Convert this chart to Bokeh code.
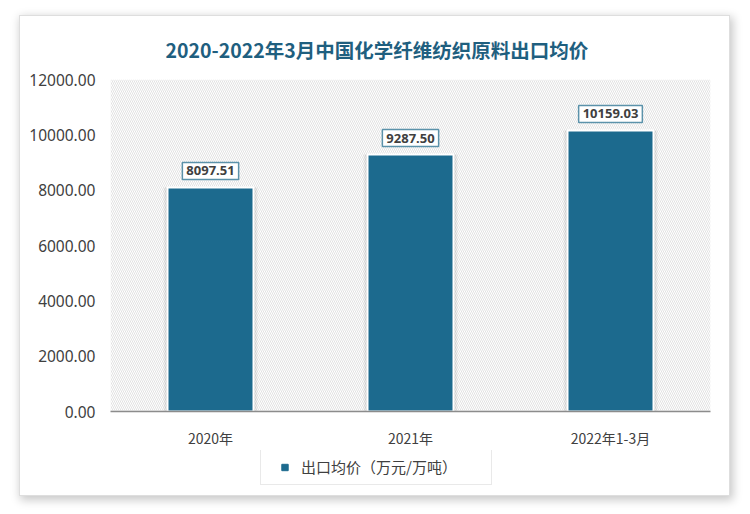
from bokeh.plotting import figure
from bokeh.layouts import column
from bokeh.models import (FactorRange, ColumnDataSource, Label, BoxAnnotation,
                          FixedTicker, NumeralTickFormatter, Legend, LegendItem)
from bokeh.embed import file_html
from bokeh.resources import INLINE

# ---- data ----
categories = ["2020年", "2021年", "2022年1-3月"]
values = [8097.51, 9287.50, 10159.03]
value_labels = ["8097.51", "9287.50", "10159.03"]
y_ticks = [0, 2000, 4000, 6000, 8000, 10000, 12000]
title_text = "2020-2022年3月中国化学纤维纺织原料出口均价"
series_name = "出口均价（万元/万吨）"

BAR = "#1c6a8e"
TXT = "#404040"

source = ColumnDataSource(dict(x=categories, y=values, label=value_labels))

x_range = FactorRange(factors=categories)
p = figure(x_range=x_range, y_range=(0, 12000),
           width=709, height=434, output_backend="svg", toolbar_location=None,
           min_border_left=90, min_border_right=19, min_border_top=61, min_border_bottom=38,
           background_fill_color="white", border_fill_color="white")
p.outline_line_color = None
p.grid.visible = False

p.title.text = title_text
p.title.align = "left"
p.title.offset = 55
p.title.text_font = "Noto Sans CJK SC"
p.title.text_font_size = "19.5px"
p.title.text_font_style = "bold"
p.title.text_color = "#1f5f7f"
p.title.standoff = 32

bg = BoxAnnotation(fill_alpha=0, line_color=None, hatch_pattern="\\", hatch_color="#e2e2e2",
                   hatch_scale=4, hatch_weight=1, level="underlay")
p.add_layout(bg)

# soft shadow around bars
p.vbar(x="x", top="y", width=0.47, source=source, fill_color="black", fill_alpha=0.05, line_color=None)
p.vbar(x="x", top="y", width=0.45, source=source, fill_color="black", fill_alpha=0.07, line_color=None)
bars = p.vbar(x="x", top="y", width=0.43, source=source, fill_color=BAR, line_color="white", line_width=2)

# value labels (factor i sits at synthetic coordinate i + 0.5 on a FactorRange)
for i, (val, lab) in enumerate(zip(values, value_labels)):
    p.add_layout(Label(x=i + 0.5, y=val, text=lab, text_align="center",
                       text_baseline="bottom", y_offset=8, text_font="Noto Sans",
                       text_font_size="13px", text_font_style="bold", text_color=TXT,
                       background_fill_color="white", border_line_color="#5b92aa",
                       border_line_width=1.5, padding=4))

p.yaxis.ticker = FixedTicker(ticks=y_ticks)
p.yaxis.formatter = NumeralTickFormatter(format="0.00")
p.yaxis.axis_line_color = None
p.yaxis.major_tick_line_color = None
p.yaxis.minor_tick_line_color = None
p.yaxis.major_tick_out = 0
p.yaxis.major_tick_in = 0
p.yaxis.major_label_standoff = 15
p.yaxis.major_label_text_font = "Noto Sans"
p.yaxis.major_label_text_font_size = "15.5px"
p.yaxis.major_label_text_color = TXT

p.xaxis.axis_line_color = "#8c8c8c"
p.xaxis.axis_line_width = 1.5
p.xaxis.major_tick_line_color = None
p.xaxis.minor_tick_line_color = None
p.xaxis.major_tick_out = 0
p.xaxis.major_tick_in = 0
p.xaxis.major_label_standoff = 16
p.xaxis.major_label_text_font = "Noto Sans CJK SC"
p.xaxis.major_label_text_font_size = "14px"
p.xaxis.major_label_text_color = TXT

# legend strip (separate small figure under the chart, same card)
pl = figure(width=709, height=45, output_backend="svg", toolbar_location=None,
            x_axis_type=None, y_axis_type=None, min_border_left=90, min_border_right=19,
            min_border_top=0, min_border_bottom=6,
            background_fill_color="white", border_fill_color="white")
pl.outline_line_color = None
pl.grid.visible = False
# size 0 keeps the marker itself hidden; the legend draws its own swatch
legend_glyph = pl.scatter(x=[0], y=[0], size=0, marker="square",
                          fill_color=BAR, line_color=BAR)
legend = Legend(items=[LegendItem(label=series_name, renderers=[legend_glyph])],
                location=(150, 4), orientation="horizontal", padding=7,
                glyph_width=33, glyph_height=16, label_height=16, label_width=183,
                label_standoff=0, label_text_font="Noto Sans CJK SC",
                label_text_font_size="15px", label_text_color=TXT,
                border_line_color="#d4d4d4", border_line_width=1.5,
                background_fill_color="white", margin=0)
pl.add_layout(legend, "center")

layout = column(p, pl, spacing=0)
layout.styles = {"margin-left": "20px", "margin-top": "16px", "background": "white",
                 "box-shadow": "0 0 0 1px #dedede, 2px 3px 9px 2px rgba(0,0,0,0.22)"}

open("out.html", "w").write(file_html(layout, INLINE))
